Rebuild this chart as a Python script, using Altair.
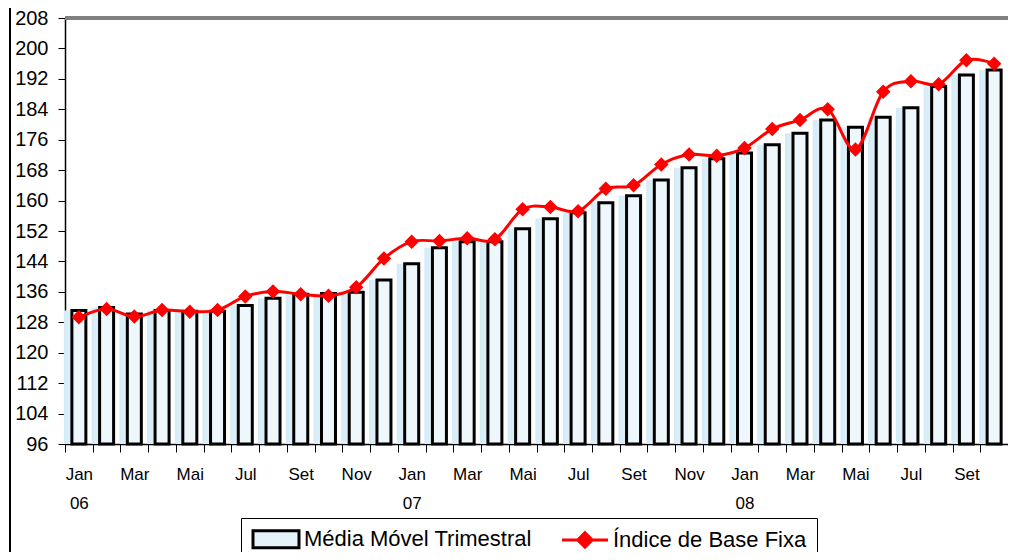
import altair as alt
import pandas as pd

meses = ["Jan", "Fev", "Mar", "Abr", "Mai", "Jun", "Jul", "Ago", "Set", "Out", "Nov", "Dez"]
anos = ["06", "07", "08"]

media_movel = [131.1, 131.9, 130.2, 131.1, 130.9, 130.9, 132.4, 134.3, 135.4, 135.6,
               135.9, 139.1, 143.4, 147.6, 149.2, 149.2, 152.6, 155.2, 156.8, 159.4,
               161.3, 165.4, 168.6, 171.0, 172.5, 174.7, 177.7, 181.2, 179.3, 181.9,
               184.4, 190.0, 193.0, 194.3]
indice_base = [129.3, 131.5, 129.5, 131.2, 130.8, 131.2, 134.8, 136.1, 135.4, 135.0,
               137.2, 144.8, 149.2, 149.4, 150.1, 149.8, 157.7, 158.3, 157.2, 163.1,
               164.0, 169.5, 172.1, 171.8, 173.8, 178.8, 181.2, 184.0, 173.4, 188.6,
               191.4, 190.6, 196.9, 196.0]
y_ticks = [96, 104, 112, 120, 128, 136, 144, 152, 160, 168, 176, 184, 192, 200, 208]

n = len(media_movel)
labels = []
for i in range(n):
    m = meses[i % 12]
    if i % 12 == 0:
        labels.append([m, anos[i // 12]])
    elif i % 2 == 0:
        labels.append([m])
    else:
        labels.append([""])

S1 = "Média Móvel Trimestral"
S2 = "Índice de Base Fixa"

df = pd.DataFrame({"idx": list(range(n)), "media": media_movel, "indice": indice_base})

FONT = "Liberation Sans"

label_expr = "[" + ",".join("[" + ",".join("'" + s + "'" for s in lab) + "]" for lab in labels) + "][datum.value]"

x = alt.X("idx:O", title=None,
          scale=alt.Scale(paddingInner=0, paddingOuter=0),
          axis=alt.Axis(labelExpr=label_expr, labelAngle=0, tickBand="extent",
                        tickSize=8, tickColor="black", domainColor="black", domainWidth=1.5,
                        labelFont=FONT, labelFontSize=17, labelColor="black",
                        labelPadding=14, labelLineHeight=29, labelOverlap=False))
yscale = alt.Scale(domain=[96, 208], zero=False, nice=False)
y_axis = alt.Axis(values=y_ticks, title=None, grid=False, tickSize=7,
                  tickColor="black", domainColor="black", domainWidth=1.5,
                  labelFont=FONT, labelFontSize=20, labelColor="black", labelPadding=10,
                  labelOverlap=False, labelFlush=False, labelBound=False)

base = alt.Chart(df)

shadow = base.mark_bar(size=22, xOffset=-4,
                       color=alt.Gradient(gradient="linear",
                                          stops=[alt.GradientStop(color="#d3ebf6", offset=0),
                                                 alt.GradientStop(color="#f4fafd", offset=1)],
                                          x1=0, x2=1, y1=0, y2=0)).encode(
    x=x, y=alt.Y("media:Q", scale=yscale, axis=y_axis), y2=alt.datum(96))

bars = base.mark_bar(size=14, fill="#eef7fb", stroke="black", strokeWidth=3).encode(
    x=x, y=alt.Y("media:Q", scale=yscale, axis=y_axis), y2=alt.datum(96))

line = base.mark_line(color="#ff0000", strokeWidth=3, interpolate="cardinal").encode(
    x=x, y=alt.Y("indice:Q", scale=yscale, axis=y_axis))

pts = base.mark_point(shape="diamond", filled=True, color="#ff0000", size=210, opacity=1).encode(
    x=x, y=alt.Y("indice:Q", scale=yscale, axis=y_axis))

top_border = alt.Chart(df).mark_rule(color="#808080", strokeWidth=3).encode(
    y=alt.datum(208, scale=yscale, axis=y_axis))

frame = alt.Chart(df).mark_rule(color="black", strokeWidth=1.5).encode(
    x=alt.value(-55), y=alt.value(-18), y2=alt.value(560))

rect_path = "M-1,-0.95H4.11V0.95H-1Z"
line_path = "M-1,0H4.11M1.556,-0.8L2.356,0L1.556,0.8L0.756,0Z"

leg_data = alt.Data(values=[{"serie": S1}, {"serie": S2}])
legend = alt.Legend(title=None, orient="none", legendX=176, legendY=500, direction="horizontal",
                    strokeColor="black", padding=10, columnPadding=24, labelOffset=31,
                    symbolSize=324, symbolStrokeWidth=3, labelFont=FONT, labelFontSize=22,
                    labelColor="black", symbolOpacity=1, labelLimit=500)
leg = alt.Chart(leg_data).mark_point(filled=True, strokeWidth=3, opacity=1).encode(
    shape=alt.Shape("serie:N", scale=alt.Scale(domain=[S1, S2], range=[rect_path, line_path]), legend=legend),
    fill=alt.Fill("serie:N", scale=alt.Scale(domain=[S1, S2], range=["#e4f2f9", "#ff0000"]), legend=legend),
    stroke=alt.Stroke("serie:N", scale=alt.Scale(domain=[S1, S2], range=["#000000", "#ff0000"]), legend=legend),
).transform_filter("false")

chart = alt.layer(shadow, bars, line, pts, top_border, frame, leg).properties(
    width=943, height=426,
    padding={"left": 57, "top": 10, "right": 0, "bottom": 108},
    autosize="none",
    background="white",
).configure_view(fill="#ffffc4", stroke=None)

chart.save("out.html", embed_options={"renderer": "svg", "actions": False})
